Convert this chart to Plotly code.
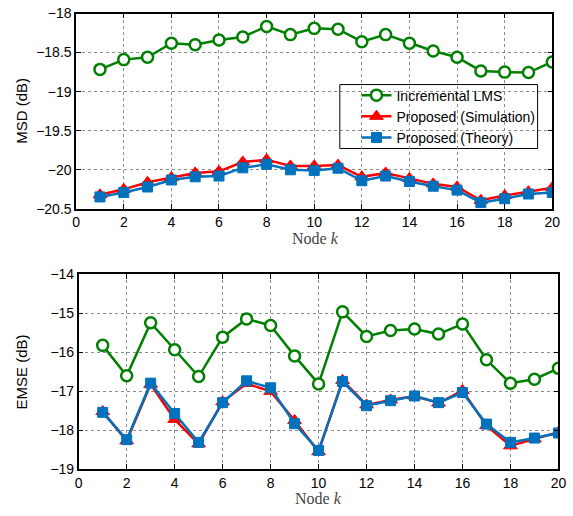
import plotly.graph_objects as go

nodes = list(range(1, 21))

msd_incremental = [-18.715, -18.59, -18.56, -18.38, -18.40, -18.34, -18.30, -18.165, -18.27, -18.19,
                   -18.20, -18.36, -18.27, -18.38, -18.48, -18.56, -18.735, -18.75, -18.755, -18.62]
msd_sim = [-20.32, -20.25, -20.16, -20.10, -20.04, -20.02, -19.90, -19.87, -19.95, -19.95,
           -19.94, -20.09, -20.04, -20.11, -20.18, -20.22, -20.39, -20.33, -20.28, -20.23]
msd_theory = [-20.347, -20.29, -20.22, -20.13, -20.09, -20.08, -19.975, -19.93, -20.00, -20.01,
              -19.98, -20.14, -20.08, -20.15, -20.21, -20.26, -20.42, -20.37, -20.31, -20.29]

emse_incremental = [-15.82, -16.60, -15.24, -15.93, -16.62, -15.61, -15.14, -15.31, -16.09, -16.81,
                    -14.96, -15.59, -15.44, -15.40, -15.53, -15.27, -16.19, -16.79, -16.69, -16.41]
emse_sim = [-17.52, -18.27, -16.82, -17.72, -18.35, -17.27, -16.80, -17.00, -17.75, -18.55,
            -16.72, -17.35, -17.22, -17.12, -17.30, -16.98, -17.88, -18.40, -18.22, -18.05]
emse_theory = [-17.54, -18.24, -16.79, -17.57, -18.31, -17.29, -16.73, -16.91, -17.83, -18.52,
               -16.75, -17.37, -17.24, -17.12, -17.29, -17.03, -17.84, -18.31, -18.20, -18.07]

x_ticks = list(range(0, 21, 2))
msd_ticks = [-20.5, -20, -19.5, -19, -18.5, -18]
msd_labels = ["−20.5", "−20", "−19.5", "−19", "−18.5", "−18"]
emse_ticks = [-19, -18, -17, -16, -15, -14]
emse_labels = ["−19", "−18", "−17", "−16", "−15", "−14"]

GREEN = "#007F00"
RED = "#FF0000"
BLUE = "#0072BD"
FONT = "Liberation Sans, Arial, sans-serif"
SERIF = "Liberation Serif, Times New Roman, serif"

W, H = 573, 516

fig = go.Figure()

def add_series(xa, ya, inc, sim, th, show):
    fig.add_trace(go.Scatter(x=nodes, y=inc, mode="lines+markers", name="Incremental LMS",
                             xaxis=xa, yaxis=ya, showlegend=show,
                             line=dict(color=GREEN, width=2.5),
                             marker=dict(symbol="circle", size=11, color="white",
                                         line=dict(color=GREEN, width=2.5))))
    fig.add_trace(go.Scatter(x=nodes, y=sim, mode="lines+markers", name="Proposed (Simulation)",
                             xaxis=xa, yaxis=ya, showlegend=show,
                             line=dict(color=RED, width=2.5),
                             marker=dict(symbol="triangle-up", size=12, color=RED,
                                         line=dict(color=RED, width=1))))
    fig.add_trace(go.Scatter(x=nodes, y=th, mode="lines+markers", name="Proposed (Theory)",
                             xaxis=xa, yaxis=ya, showlegend=show,
                             line=dict(color=BLUE, width=2.5),
                             marker=dict(symbol="square", size=10, color=BLUE,
                                         line=dict(color=BLUE, width=1))))

add_series("x", "y", msd_incremental, msd_sim, msd_theory, True)
add_series("x2", "y2", emse_incremental, emse_sim, emse_theory, False)

axis_common = dict(showline=True, linecolor="black", linewidth=1.5, mirror="ticks",
                   ticks="inside", ticklen=5, tickcolor="black",
                   showgrid=True, gridcolor="#8c8c8c", griddash="dot", gridwidth=1,
                   zeroline=False, tickfont=dict(family=FONT, size=14, color="black"))

def label(text, x, y, angle=0, family=FONT, size=15, color="black"):
    return dict(text=text, x=x / W, y=1 - y / H, xref="paper", yref="paper",
                xanchor="center", yanchor="middle", textangle=angle, showarrow=False,
                font=dict(family=family, size=size, color=color))

fig.update_layout(
    width=W, height=H,
    margin=dict(l=0, r=0, t=0, b=0),
    paper_bgcolor="white", plot_bgcolor="white",
    font=dict(family=FONT, color="black"),
    xaxis=dict(domain=[73.7 / W, 560 / W], range=[0, 20], tickvals=x_ticks, anchor="y", **axis_common),
    yaxis=dict(domain=[1 - 207.3 / H, 1 - 5.7 / H], range=[-20.5, -18], tickvals=msd_ticks,
               ticktext=msd_labels, anchor="x", **axis_common),
    xaxis2=dict(domain=[76.3 / W, 566.3 / W], range=[0, 20], tickvals=x_ticks, anchor="y2", **axis_common),
    yaxis2=dict(domain=[1 - 476 / H, 1 - 275 / H], range=[-19, -14], tickvals=emse_ticks,
                ticktext=emse_labels, anchor="x2", **axis_common),
    legend=dict(x=360 / W, y=1 - 112 / H, xanchor="left", yanchor="middle",
                bgcolor="rgba(0,0,0,0)", borderwidth=0,
                font=dict(family=FONT, size=14, color="black"),
                tracegroupgap=0),
    shapes=[
        dict(type="rect", xref="paper", yref="paper",
             x0=343 / W, x1=545 / W, y0=1 - 145 / H, y1=1 - 79 / H,
             line=dict(color="black", width=1), fillcolor="white", layer="below"),
    ],
    annotations=[
        label("MSD (dB)", 18, 106.5, angle=-90),
        label("EMSE (dB)", 18, 375.5, angle=-90),
        label("Node <i>k</i>", 318, 238, family=SERIF, size=16, color="#444444"),
        label("Node <i>k</i>", 321, 506.5, family=SERIF, size=16, color="#444444"),
    ],
)

fig.write_html("out.html", config={"displayModeBar": False},
               post_script="document.body.style.margin='0';"
                           "document.body.style.overflow='hidden';"
                           "document.documentElement.style.overflow='hidden';")
